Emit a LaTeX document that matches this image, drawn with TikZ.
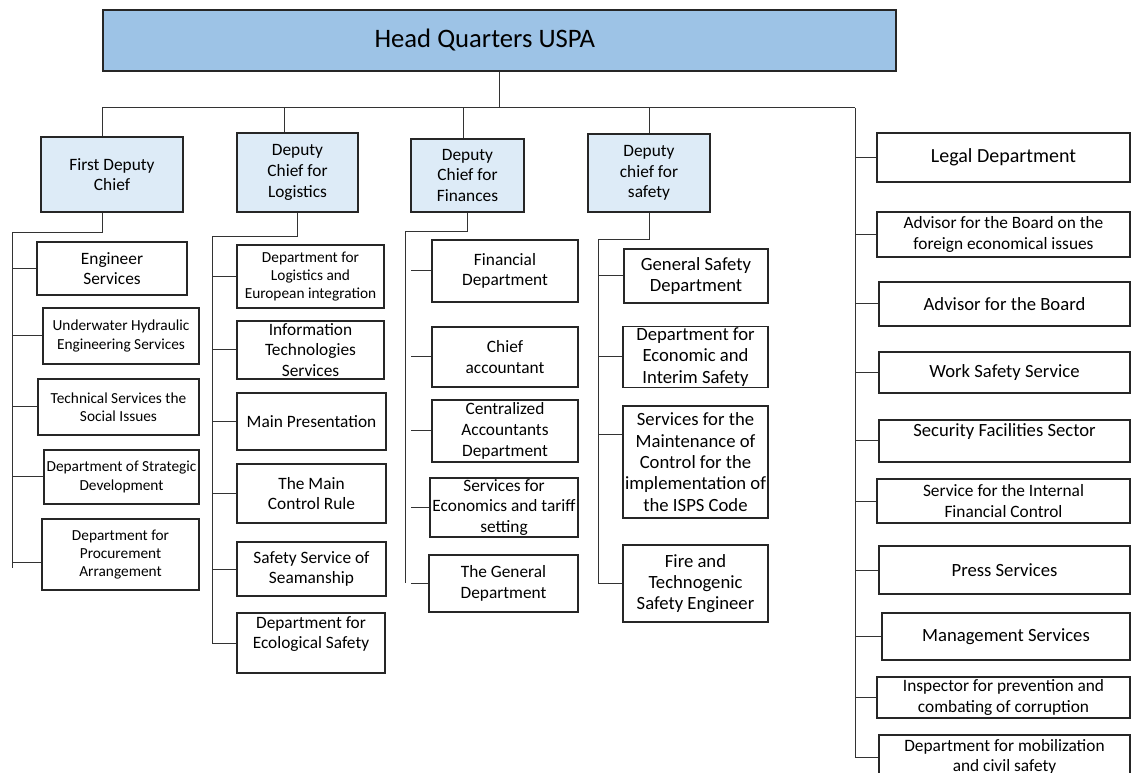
\documentclass[tikz,border=0pt]{standalone}
\usepackage{fontspec}
\setmainfont{Carlito}
\usepackage{tikz}
\definecolor{hqblue}{HTML}{9DC3E6}
\definecolor{chiefblue}{HTML}{DDEBF7}

\begin{document}
\begin{tikzpicture}[x=.75pt,y=-.75pt,
  box/.style 2 args={draw=black!85,line width=.9pt,align=center,inner sep=1pt,
    minimum width=#1*.75pt,minimum height=#2*.75pt,font=\fontsize{13}{15.5}\selectfont},
  smalltext/.style={font=\fontsize{11.5}{13.8}\selectfont},
  bigtext/.style={font=\fontsize{14}{16}\selectfont},
  chief/.style={fill=chiefblue},
  wire/.style={draw=black!80,line width=.75pt}]
\useasboundingbox (0,0) rectangle (1132,773);
\clip (0,0) rectangle (1132,773);
%head quarters
\node[box={793}{61},fill=hqblue,font=\fontsize{20}{24}\selectfont] (hq) at (499.5,40.5) {Head Quarters USPA\hspace*{22pt}};
%deputies
\node[box={142}{75},chief] (fdc) at (112,174.5) {First Deputy\\Chief};
\node[box={121}{79},chief] (dcl) at (297.5,172.5) {Deputy\\Chief for\\Logistics};
\node[box={113}{73},chief] (dcf) at (467.5,175.5) {Deputy\\Chief for\\Finances};
\node[box={122}{78},chief] (dcs) at (649,173) {Deputy\\chief for\\safety};
%first deputy chief
\node[box={150}{53}] (es) at (112,268.5) {Engineer\\Services};
\node[box={156}{56},smalltext] (uh) at (121,336) {Underwater Hydraulic\\Engineering Services};
\node[box={161}{56},smalltext] (ts) at (118.5,407) {Technical Services the\\Social Issues};
\node[box={155}{54},smalltext] (sd) at (121.5,477) {Department of Strategic\\Development};
\node[box={157}{71},smalltext] (pa) at (120.5,554.5) {Department for\\Procurement\\Arrangement};
%logistics
\node[box={147}{63},smalltext] (le) at (310.5,276.5) {Department for\\Logistics and\\European integration};
\node[box={147}{58}] (it) at (310.5,350) {Information\\Technologies\\Services};
\node[box={149}{57}] (mp) at (311.5,421.5) {Main Presentation};
\node[box={149}{59}] (cr) at (311.5,493.5) {The Main\\Control Rule};
\node[box={149}{54}] (ss) at (311.5,569) {Safety Service of\\Seamanship};
\node[box={148}{60}] (ed) at (311,643) {Department for\\Ecological Safety\\ \mbox{}};
%finances
\node[box={146}{62}] (fd) at (505,271) {Financial\\Department};
\node[box={146}{60}] (ca) at (505,357) {Chief\\accountant};
\node[box={146}{62}] (cad) at (505,431) {Centralized\\Accountants\\Department};
\node[box={148}{57}] (se) at (504,507.5) {Services for\\Economics and tariff\\setting};
\node[box={149}{57}] (gd) at (503.5,583.5) {The General\\Department};
%safety
\node[box={144}{54},bigtext] (gs) at (696,276) {General Safety\\Department};
\node[box={145}{60},bigtext] (ei) at (695.5,357) {Department for\\Economic and\\Interim Safety};
\node[box={145}{112},bigtext] (isps) at (695.5,462) {Services for the\\Maintenance of\\Control for the\\implementation of\\the ISPS Code};
\node[box={145}{77},bigtext] (fte) at (695.5,583.5) {Fire and\\Technogenic\\Safety Engineer};
%under the board
\node[box={253}{49},font=\fontsize{15}{18}\selectfont] (lg) at (1003.5,157.5) {Legal Department};
\node[box={253}{45}] (afb) at (1003.5,234.5) {Advisor for the Board on the\\foreign economical issues};
\node[box={251}{44},bigtext] (ab) at (1004.5,304) {Advisor for the Board};
\node[box={251}{41},bigtext] (ws) at (1004.5,372.5) {Work Safety Service};
\node[box={251}{42},bigtext] (sf) at (1004.5,441) {Security Facilities Sector\\ \mbox{}};
\node[box={253}{44}] (sic) at (1003.5,501) {Service for the Internal\\Financial Control};
\node[box={251}{48},bigtext] (ps) at (1004.5,570) {Press Services};
\node[box={248}{47},bigtext] (ms) at (1006,636.5) {Management Services};
\node[box={253}{41}] (ipc) at (1003.5,697.5) {Inspector for prevention and\\combating of corruption};
\node[box={251}{44}] (dmc) at (1004.5,757) {Department for mobilization\\and civil safety};
%top bus
\coordinate (t1) at (102,108);
\coordinate (t2) at (284,108);
\coordinate (t3) at (463,108);
\coordinate (t4) at (649,108);
\coordinate (t5) at (855,108);
\draw[wire] (hq.south) -- (hq.south |- t1);
\draw[wire] (t1) -- (t5);
\draw[wire] (t1) -- (t1 |- fdc.north);
\draw[wire] (t2) -- (t2 |- dcl.north);
\draw[wire] (t3) -- (t3 |- dcf.north);
\draw[wire] (t4) -- (t4 |- dcs.north);
%first deputy branch
\coordinate (b1) at (12,233);
\draw[wire] (t1 |- fdc.south) -- (t1 |- b1) -- (b1) -- (12,568);
\foreach \n in {es,uh,ts,sd}
  \draw[wire] (b1 |- \n.west) -- (\n.west);
\draw[wire] (b1 |- 0,562) -- (pa.west |- 0,562);
%logistics branch
\coordinate (b2) at (212,237);
\draw[wire] (dcl.south) -- (dcl.south |- b2) -- (b2) |- (ed.west);
\foreach \n in {le,it,mp,cr,ss}
  \draw[wire] (b2 |- \n.west) -- (\n.west);
%finances branch, the stubs stop short of the line
\coordinate (b3) at (405,232);
\coordinate (b3g) at (411,232);
\draw[wire] (dcf.south) -- (dcf.south |- b3) -- (b3) -- (405,583);
\foreach \n in {fd,ca,cad,se,gd}
  \draw[wire] (b3g |- \n.west) -- (\n.west);
%safety branch
\coordinate (b4) at (598,240);
\draw[wire] (dcs.south) -- (dcs.south |- b4) -- (b4) |- (fte.west);
\foreach \n in {gs,ei}
  \draw[wire] (b4 |- \n.west) -- (\n.west);
\draw[wire] (b4 |- 0,435) -- (isps.west |- 0,435);
%right column
\draw[wire] (t5) |- (dmc.west);
\foreach \n in {lg,afb,ab,ws,sf,sic,ps,ms,ipc}
  \draw[wire] (t5 |- \n.west) -- (\n.west);
\end{tikzpicture}
\end{document}
